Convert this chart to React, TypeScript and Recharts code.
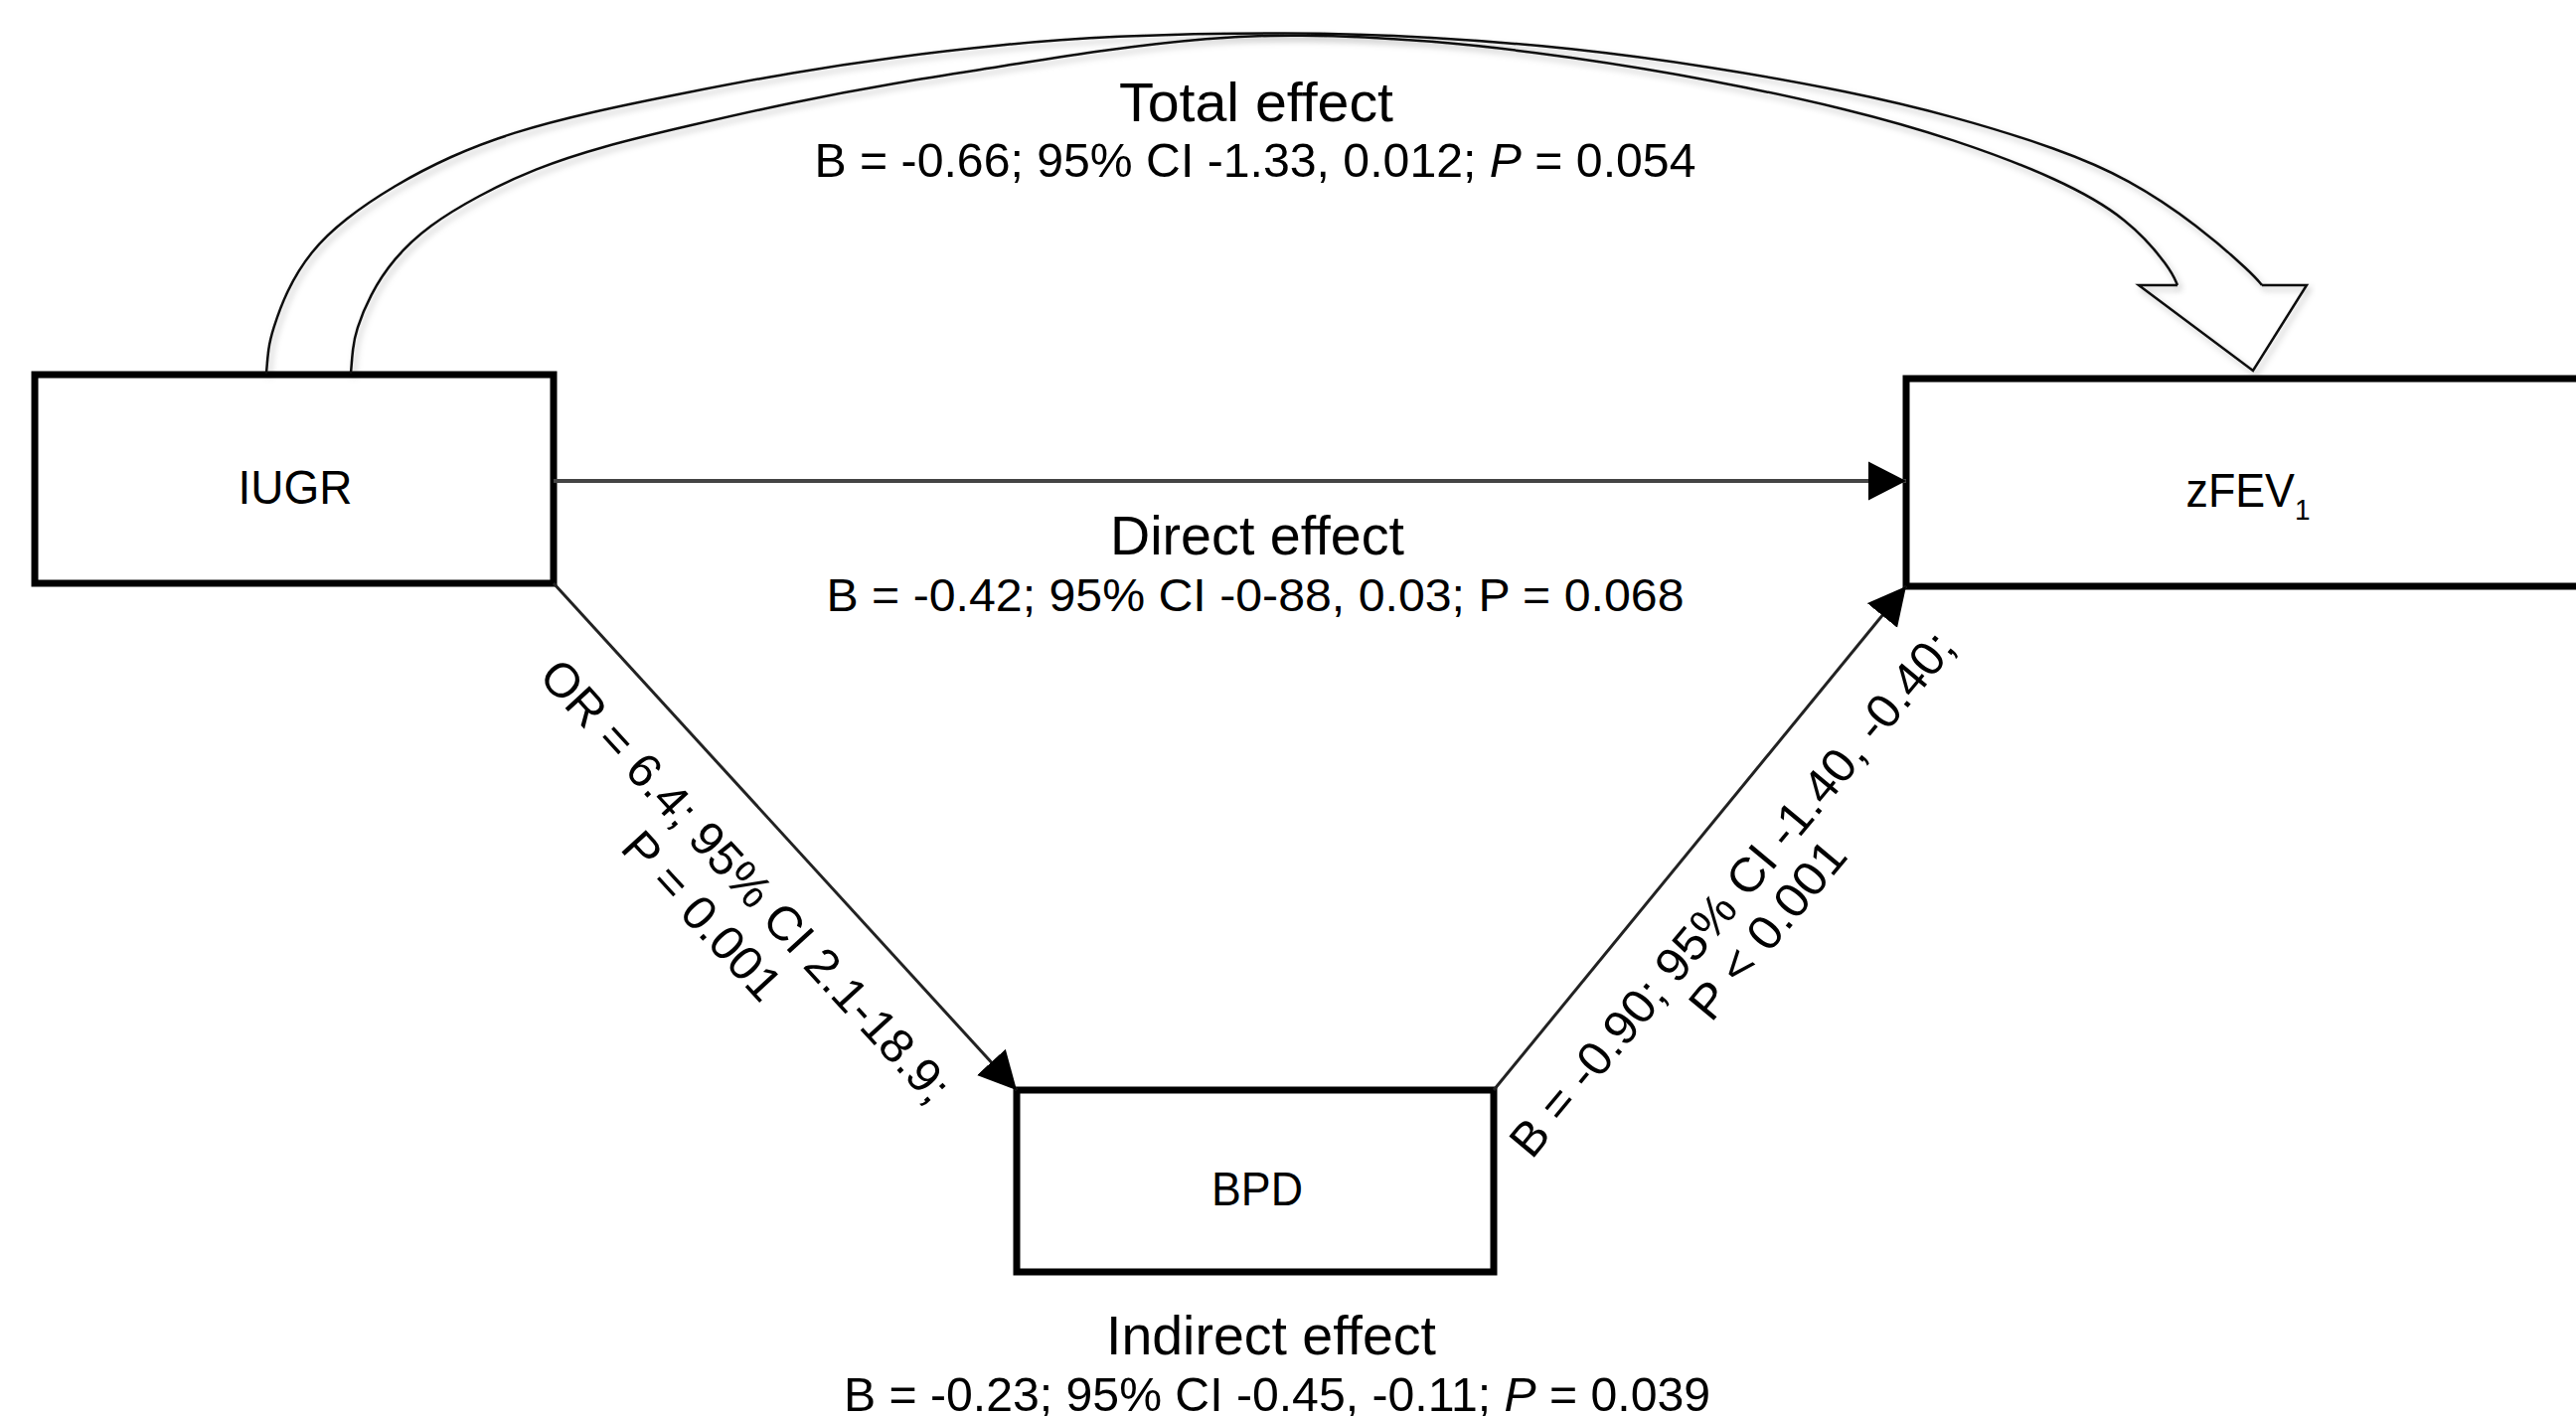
import { ComposedChart, XAxis, YAxis, Line, Scatter, ReferenceArea } from 'recharts'

// diagram drawn in the picture's own coordinate space (0..2592, 0..1425)
const NODES = [
  { name: 'IUGR', x1: 35, x2: 557, y1: 377, y2: 587 },
  { name: 'zFEV1', x1: 1918, x2: 2620, y1: 381, y2: 590 },
  { name: 'BPD', x1: 1023, x2: 1503, y1: 1097, y2: 1280 },
]

const directPath = [
  { x: 557, y: 484 },
  { x: 1918, y: 484 },
]
const iugrToBpd = [
  { x: 557, y: 587 },
  { x: 1023, y: 1097 },
]
const bpdToFev = [
  { x: 1503, y: 1097 },
  { x: 1918, y: 590 },
]

// hollow "total effect" arrow
const totalOuter = [
  { x: 268, y: 376 },
  { x: 270, y: 350 },
  { x: 274, y: 333 },
  { x: 288, y: 293 },
  { x: 312, y: 253 },
  { x: 347, y: 220 },
  { x: 396, y: 187 },
  { x: 453, y: 157 },
  { x: 516, y: 133 },
  { x: 593, y: 113 },
  { x: 691, y: 93 },
  { x: 796, y: 73 },
  { x: 902, y: 57 },
  { x: 1007, y: 45 },
  { x: 1112, y: 36 },
  { x: 1300, y: 32 },
  { x: 1440, y: 37 },
  { x: 1581, y: 48 },
  { x: 1721, y: 67 },
  { x: 1861, y: 92 },
  { x: 1966, y: 117 },
  { x: 2072, y: 150 },
  { x: 2142, y: 180 },
  { x: 2212, y: 227 },
  { x: 2266, y: 275 },
  { x: 2276, y: 287 },
]
const totalInner = [
  { x: 353, y: 376 },
  { x: 355, y: 350 },
  { x: 358, y: 333 },
  { x: 372, y: 297 },
  { x: 396, y: 260 },
  { x: 431, y: 227 },
  { x: 481, y: 197 },
  { x: 537, y: 170 },
  { x: 607, y: 147 },
  { x: 691, y: 127 },
  { x: 796, y: 103 },
  { x: 902, y: 83 },
  { x: 1007, y: 67 },
  { x: 1112, y: 50 },
  { x: 1217, y: 38 },
  { x: 1300, y: 34 },
  { x: 1440, y: 40 },
  { x: 1581, y: 57 },
  { x: 1721, y: 80 },
  { x: 1861, y: 110 },
  { x: 1966, y: 140 },
  { x: 2072, y: 180 },
  { x: 2142, y: 220 },
  { x: 2184, y: 270 },
  { x: 2191, y: 287 },
]
const totalHead = [
  { x: 2276, y: 287 },
  { x: 2321, y: 287 },
  { x: 2267, y: 373 },
  { x: 2152, y: 287 },
  { x: 2191, y: 287 },
]

// text segments between | are italic
const EFFECT_LABELS = [
  { id: 'total', text: 'Total effect', x: 1264, y: 122 },
  { id: 'totalStats', text: 'B = -0.66; 95% CI -1.33, 0.012; |P| = 0.054', x: 1263, y: 178 },
  { id: 'direct', text: 'Direct effect', x: 1265, y: 558 },
  { id: 'directStats', text: 'B = -0.42; 95% CI -0-88, 0.03; P = 0.068', x: 1263, y: 615 },
  { id: 'indirect', text: 'Indirect effect', x: 1279, y: 1363 },
  { id: 'indirectStats', text: 'B = -0.23; 95% CI -0.45, -0.11; |P| = 0.039', x: 1285, y: 1420 },
]

const NODE_LABELS = [
  { id: 'IUGR', text: 'IUGR', sub: '', x: 297, y: 507 },
  { id: 'BPD', text: 'BPD', sub: '', x: 1265, y: 1213 },
  { id: 'zFEV', text: 'zFEV', sub: '1', x: 2262, y: 510 },
]

const PATH_LABELS = [
  { id: 'a1', text: 'OR = 6.4; 95% CI 2.1-18.9;', x: 751, y: 886 },
  { id: 'a2', text: 'P = 0.001', x: 707, y: 921 },
  { id: 'b1', text: 'B = -0.90; 95% CI -1.40, -0.40;', x: 1742, y: 899 },
  { id: 'b2', text: 'P < 0.001', x: 1778, y: 935 },
]

const LABEL_STYLE: Record<string, { size: number; len: number; angle?: number; mid?: boolean }> = {
  total: { size: 55, len: 276 },
  totalStats: { size: 48, len: 887 },
  direct: { size: 55, len: 296 },
  directStats: { size: 46, len: 863 },
  indirect: { size: 55, len: 332 },
  indirectStats: { size: 48, len: 872 },
  IUGR: { size: 48, len: 115 },
  BPD: { size: 48, len: 92 },
  zFEV: { size: 48, len: 125 },
  a1: { size: 48, len: 585, angle: 47.5, mid: true },
  a2: { size: 48, len: 212, angle: 47.5, mid: true },
  b1: { size: 48, len: 670, angle: -50.3, mid: true },
  b2: { size: 48, len: 218, angle: -50.3, mid: true },
}

const FONT = "'Liberation Sans Narrow', 'Liberation Sans', Arial, sans-serif"

function TextMark(props: any) {
  const { cx, cy, payload } = props
  const st = LABEL_STYLE[payload.id]
  const parts = String(payload.text).split('|')
  return (
    <text
      x={cx}
      y={cy}
      dy={st.mid ? '0.36em' : 0}
      fontSize={st.size}
      fontFamily={FONT}
      fill="#000"
      textAnchor="middle"
      textLength={st.len}
      lengthAdjust="spacingAndGlyphs"
      transform={st.angle ? `rotate(${st.angle} ${cx} ${cy})` : undefined}
    >
      {parts.map((p, i) => (
        <tspan key={i} fontStyle={i % 2 ? 'italic' : 'normal'}>
          {p}
        </tspan>
      ))}
      {payload.sub ? (
        <tspan fontSize={30} dy={13}>
          {payload.sub}
        </tspan>
      ) : null}
    </text>
  )
}

const arcProps = {
  dataKey: 'y',
  stroke: '#111',
  strokeWidth: 2.5,
  dot: false,
  activeDot: false,
  filter: 'url(#softShadow)',
  isAnimationActive: false,
}

export default function App() {
  return (
    <div style={{ position: 'absolute', left: 0, top: 0, width: 2592, height: 1425, background: '#fff' }}>
      <svg width={0} height={0} style={{ position: 'absolute' }}>
        <defs>
          <marker
            id="arrowHead"
            markerUnits="userSpaceOnUse"
            markerWidth={38}
            markerHeight={40}
            viewBox="0 0 37 38"
            refX={37}
            refY={19}
            orient="auto"
          >
            <path d="M0,0 L37,19 L0,38 Z" fill="#000" />
          </marker>
          <filter id="softShadow" x="-5%" y="-5%" width="110%" height="120%">
            <feDropShadow dx={3} dy={4} stdDeviation={3} floodColor="#000" floodOpacity={0.25} />
          </filter>
        </defs>
      </svg>
      <ComposedChart width={2592} height={1425} margin={{ top: 0, right: 0, bottom: 0, left: 0 }}>
        <XAxis type="number" dataKey="x" domain={[0, 2592]} allowDataOverflow hide />
        <YAxis type="number" dataKey="y" domain={[0, 1425]} allowDataOverflow reversed hide />

        <Line data={totalOuter} type="basis" {...arcProps} />
        <Line data={totalInner} type="basis" {...arcProps} />
        <Line data={totalHead} type="linear" {...arcProps} />

        {NODES.map((n) => (
          <ReferenceArea
            key={n.name}
            x1={n.x1}
            x2={n.x2}
            y1={n.y1}
            y2={n.y2}
            fill="#fff"
            fillOpacity={1}
            stroke="#000"
            strokeWidth={7}
            ifOverflow="visible"
          />
        ))}

        <Line
          data={directPath}
          dataKey="y"
          type="linear"
          stroke="#444"
          strokeWidth={4}
          dot={false}
          activeDot={false}
          markerEnd="url(#arrowHead)"
          isAnimationActive={false}
        />
        <Line
          data={iugrToBpd}
          dataKey="y"
          type="linear"
          stroke="#222"
          strokeWidth={3}
          dot={false}
          activeDot={false}
          markerEnd="url(#arrowHead)"
          isAnimationActive={false}
        />
        <Line
          data={bpdToFev}
          dataKey="y"
          type="linear"
          stroke="#222"
          strokeWidth={3}
          dot={false}
          activeDot={false}
          markerEnd="url(#arrowHead)"
          isAnimationActive={false}
        />

        <Scatter data={EFFECT_LABELS} shape={TextMark} isAnimationActive={false} />
        <Scatter data={NODE_LABELS} shape={TextMark} isAnimationActive={false} />
        <Scatter data={PATH_LABELS} shape={TextMark} isAnimationActive={false} />
      </ComposedChart>
    </div>
  )
}
